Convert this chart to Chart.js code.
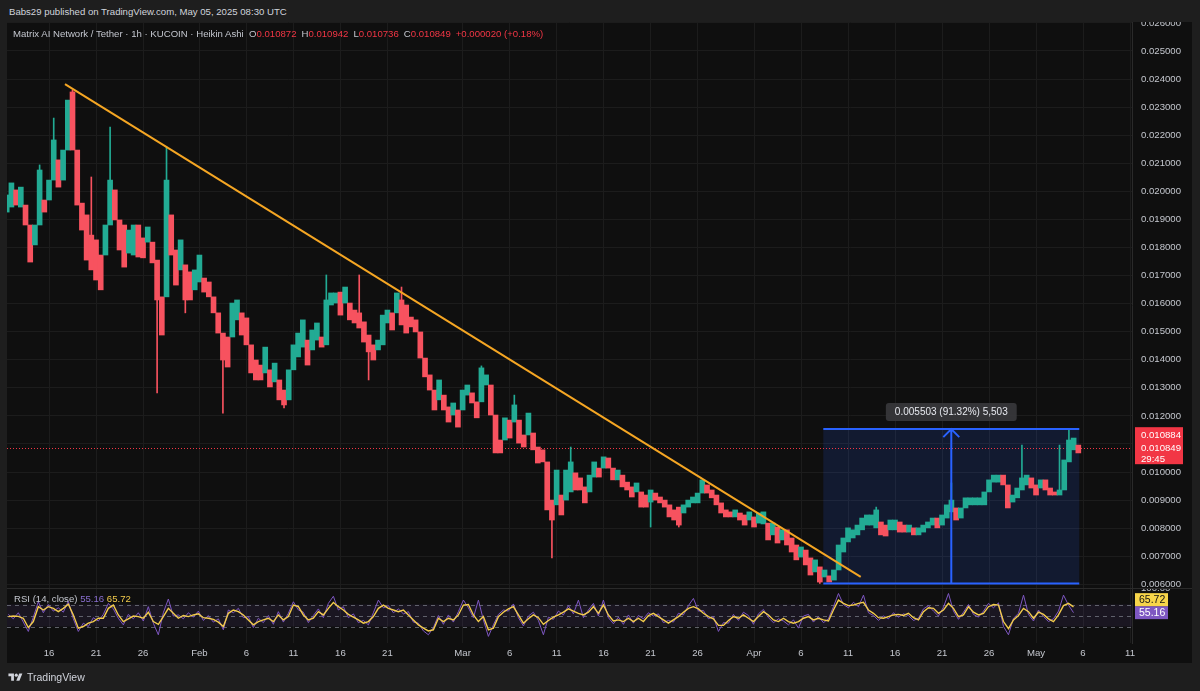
<!DOCTYPE html>
<html>
<head>
<meta charset="utf-8">
<script src="https://cdn.jsdelivr.net/npm/chart.js@4.4.1/dist/chart.umd.min.js"></script>
<style>
  html, body { margin: 0; padding: 0; }
  body { width: 1200px; height: 691px; overflow: hidden; background: #1e1e1e; position: relative;
         font-family: "Liberation Sans", Arial, sans-serif; }
  #hdr { position: absolute; left: 9px; top: 6px; font-size: 9.6px; color: #d1d4dc; }
  #frame { position: absolute; left: 7px; top: 22px; width: 1185px; height: 641px; background: #0f0f0f; }
  #price { position: absolute; left: 0; top: 0; }
  #rsi { position: absolute; left: 0; top: 566px; }
  #sep { position: absolute; left: 0; top: 566px; width: 1185px; height: 1px; background: #2a2a2a; }
  #legend { position: absolute; left: 6px; top: 6px; font-size: 9.6px; color: #c3c6ce; white-space: nowrap; }
  #legend b { font-weight: normal; color: #f23645; margin-right: 5px; }
  #rsiLegend { position: absolute; left: 7px; top: 571px; font-size: 9.6px; color: #c3c6ce; white-space: nowrap; }
  #brand { position: absolute; left: 8px; top: 671px; font-size: 10.5px; color: #d1d4dc; display: flex; align-items: center; gap: 4px; }
</style>
</head>
<body>
<div id="hdr">Babs29 published on TradingView.com, May 05, 2025 08:30 UTC</div>
<div id="frame">
  <canvas id="price" width="1185" height="566"></canvas>
  <canvas id="rsi" width="1185" height="75"></canvas>
  <div id="sep"></div>
  <div id="legend"></div>
  <div id="rsiLegend"></div>
</div>
<div id="brand">
  <svg width="15" height="11" viewBox="0 0 36 28"><path d="M14 22H7V11H0V4h14v18zM28 22h-8l7.5-18h8L28 22z" fill="#d1d4dc"/><circle cx="20" cy="8" r="4" fill="#d1d4dc"/></svg>
  <span>TradingView</span>
</div>
<script>
// 12h columns of the 1h Heikin Ashi chart, day of year (0 = Jan 1), first one Jan 11 12:00 UTC
const candleStart = 10.5;
const candleStep = 0.5;

const highs = [
  0.01987,0.02030,0.02005,0.02015,0.01951,0.01809,0.01880,0.02076,0.01969,0.02040,
  0.02183,0.02112,0.02147,0.02325,0.02354,0.02040,0.01958,0.01916,0.01844,0.01827,
  0.01773,0.01880,0.02040,0.02005,0.01887,0.01880,0.01862,0.01880,0.01880,0.01834,
  0.01873,0.01802,0.01755,0.01624,0.02040,0.01916,0.01791,0.01827,0.01738,0.01713,
  0.01720,0.01773,0.01691,0.01677,0.01624,0.01567,0.01495,0.01481,0.01602,0.01613,
  0.01567,0.01549,0.01453,0.01399,0.01381,0.01445,0.01364,0.01388,0.01328,0.01292,
  0.01364,0.01453,0.01495,0.01542,0.01470,0.01506,0.01531,0.01481,0.01613,0.01638,
  0.01638,0.01641,0.01659,0.01602,0.01577,0.01567,0.01535,0.01488,0.01453,0.01470,
  0.01559,0.01577,0.01567,0.01638,0.01613,0.01595,0.01552,0.01542,0.01470,0.01406,
  0.01346,0.01274,0.01328,0.01274,0.01232,0.01246,0.01221,0.01292,0.01310,0.01282,
  0.01250,0.01371,0.01346,0.01274,0.01150,0.01114,0.01193,0.01185,0.01239,0.01185,
  0.01132,0.01210,0.01132,0.01089,0.01079,0.01007,0.00900,0.01007,0.00918,0.01007,
  0.01036,0.00997,0.00979,0.00947,0.00989,0.01036,0.01014,0.01054,0.01050,0.01000,
  0.01007,0.00989,0.00964,0.00947,0.00961,0.00925,0.00918,0.00936,0.00925,0.00911,
  0.00900,0.00883,0.00865,0.00875,0.00883,0.00900,0.00911,0.00925,0.00972,0.00954,
  0.00936,0.00918,0.00890,0.00865,0.00858,0.00865,0.00854,0.00847,0.00858,0.00840,
  0.00854,0.00858,0.00818,0.00818,0.00804,0.00794,0.00794,0.00765,0.00740,0.00733,
  0.00722,0.00694,0.00687,0.00662,0.00651,0.00630,0.00651,0.00740,0.00765,0.00801,
  0.00794,0.00811,0.00836,0.00847,0.00847,0.00865,0.00822,0.00811,0.00829,0.00829,
  0.00822,0.00811,0.00811,0.00801,0.00801,0.00811,0.00822,0.00836,0.00836,0.00847,
  0.00883,0.00900,0.00872,0.00872,0.00908,0.00908,0.00908,0.00908,0.00929,0.00972,
  0.00989,0.00989,0.00989,0.00929,0.00918,0.00943,0.00979,0.00989,0.00979,0.00954,
  0.00972,0.00972,0.00943,0.00929,0.00936,0.01043,0.01114,0.01121,0.01096
];

const lows = [
  0.01926,0.01944,0.01951,0.01944,0.01880,0.01748,0.01809,0.01926,0.01926,0.01998,
  0.02094,0.02015,0.02040,0.02219,0.02147,0.01951,0.01862,0.01755,0.01720,0.01684,
  0.01649,0.01791,0.01951,0.01898,0.01791,0.01730,0.01780,0.01773,0.01766,0.01763,
  0.01819,0.01745,0.01613,0.01488,0.01791,0.01773,0.01666,0.01720,0.01613,0.01613,
  0.01649,0.01677,0.01641,0.01624,0.01567,0.01495,0.01399,0.01374,0.01506,0.01542,
  0.01488,0.01453,0.01353,0.01328,0.01328,0.01353,0.01303,0.01321,0.01257,0.01239,
  0.01257,0.01364,0.01410,0.01445,0.01381,0.01435,0.01470,0.01445,0.01453,0.01595,
  0.01602,0.01559,0.01602,0.01542,0.01531,0.01513,0.01463,0.01428,0.01399,0.01435,
  0.01453,0.01531,0.01506,0.01567,0.01524,0.01495,0.01517,0.01499,0.01406,0.01339,
  0.01292,0.01221,0.01257,0.01221,0.01178,0.01203,0.01160,0.01239,0.01274,0.01246,
  0.01193,0.01274,0.01310,0.01203,0.01068,0.01068,0.01132,0.01121,0.01178,0.01103,
  0.01089,0.01139,0.01079,0.01032,0.01036,0.00865,0.00829,0.00883,0.00847,0.00900,
  0.00929,0.00936,0.00936,0.00890,0.00929,0.00982,0.00982,0.01018,0.01014,0.00972,
  0.00972,0.00947,0.00936,0.00911,0.00929,0.00875,0.00875,0.00893,0.00900,0.00890,
  0.00875,0.00840,0.00829,0.00811,0.00854,0.00875,0.00890,0.00890,0.00925,0.00925,
  0.00908,0.00883,0.00854,0.00840,0.00840,0.00840,0.00829,0.00811,0.00829,0.00804,
  0.00818,0.00815,0.00758,0.00776,0.00747,0.00758,0.00740,0.00715,0.00687,0.00697,
  0.00669,0.00633,0.00644,0.00608,0.00626,0.00608,0.00615,0.00669,0.00715,0.00751,
  0.00765,0.00776,0.00794,0.00811,0.00811,0.00801,0.00776,0.00772,0.00794,0.00794,
  0.00786,0.00786,0.00786,0.00776,0.00776,0.00786,0.00801,0.00811,0.00801,0.00811,
  0.00836,0.00858,0.00829,0.00836,0.00872,0.00883,0.00883,0.00883,0.00883,0.00936,
  0.00964,0.00964,0.00954,0.00872,0.00893,0.00908,0.00936,0.00954,0.00943,0.00918,
  0.00943,0.00936,0.00918,0.00918,0.00918,0.01000,0.01036,0.01079,0.01068
];

// long wicks: column index and the extreme price reached
const wickIdx = [7,10,14,18,22,32,34,38,46,59,68,75,77,84,101,108,116,120,137,143,173,185,201,216,224,226];
const wickPrice = [0.02094,0.02261,0.02361,0.02051,0.02229,0.01282,0.02158,0.01567,0.01210,0.01228,0.01702,0.01702,0.01328,
  0.01659,0.01378,0.01274,0.00694,0.01089,0.00804,0.00804,0.00603,0.00875,0.00961,0.01096,0.01096,0.01153];

// RSI(14) and its moving average, read every ~12.8h
const rsiStart = 10.67;
const rsiStep = 0.532;
const rsiLine = [
  52,44,55,38,21,47,75,55,70,58,64,56,76,44,21,36,30,46,40,52,72,62,45,33,52,44,55,40,66,36,
  15,55,80,49,51,44,55,47,58,41,50,38,44,24,60,55,63,46,48,28,45,37,50,34,57,38,54,75,60,56,
  37,50,62,46,72,85,60,66,46,53,37,41,33,
  55,78,64,68,55,62,53,57,38,36,22,15,28,50,34,51,38,57,78,64,46,78,42,12,33,52,60,58,71,46,
  31,49,56,41,15,47,43,58,51,68,53,78,46,60,72,49,78,46,35,47,34,51,36,50,44,55,49,53,37,41,
  38,54,51,68,81,58,59,44,48,21,37,36,52,41,56,
  50,34,53,61,46,37,44,40,33,42,27,49,52,38,48,37,44,66,90,70,64,74,66,87,55,50,41,49,44,55,
  47,53,50,41,45,62,68,58,49,65,90,58,43,56,70,52,47,58,72,64,73,30,15,45,54,87,52,40,60,48,
  39,44,58,87,69,55.16
];
const rsiMa = [
  48,49,48.5,45,28,39,66,60,66,63,57,63,70.5,51,27,30,36,39,45,45,63,69,51,39,44,49,48,45,56,39,
  34,48,63,54,45,50,48,51,53,46,45,43,38,30,54,60,57,51,42,33,39,42,45,39,51,42,48,69,66,51,
  42,45,57,51,63,73.5,66,60,52,47,42,36,39,
  48,63,69,63,60,57,60,51,42,33,27,22,24,45,39,45,42,51,69,70,51,39,48,24,27,48,56,62,66,51,
  36,44,51,46,34,41,47,51,56,62,58,54,51,56,66,54,69,51,40,42,39,45,39,45,39,50,54,48,42,36,
  42,48,56,63,66,62,54,48,44,32,32,41,48,45,51,
  45,39,48,57,51,42,39,45,39,36,39,45,48,42,45,42,40,60,78,72,68,69,72,74,60,54,46,45,48,51,
  52,50,54,46,42,57,64,63,54,60,72,63,48,51,66,56,51,54,66,70,69,39,26,42,50,63,57,45,56,52,
  44,39,51,68,72,65.72
];
const rsiBands = [70, 50, 30];

// drawings on the chart
const trendDays = [16.7, 101.35];
const trendPrices = [0.023819, 0.006266];
const measureDays = [97.37, 124.6];
const measurePrices = [0.006026, 0.011529];
const measureLabel = '0.005503 (91.32%) 5,503';

const legendOhlc = ['0.010872', '0.010942', '0.010736', '0.010849'];
const legendChange = '+0.000020 (+0.18%)';
const lastPrice = 0.010849;
const priceTag = ['0.010884', '0.010849', '29:45'];

const priceTicks = [0.006,0.007,0.008,0.009,0.010,0.011,0.012,0.013,0.014,0.015,0.016,
  0.017,0.018,0.019,0.020,0.021,0.022,0.023,0.024,0.025,0.026];
const tickDays = [15,20,25,31,36,41,46,51,59,64,69,74,79,84,90,95,100,105,110,115,120,125,130];
const tickLabels = ['16','21','26','Feb','6','11','16','21','Mar','6','11','16','21','26','Apr','6','11','16','21','26','May','6','11'];

const UP = '#22ab94';
const DOWN = '#f7525f';
const GRID = '#1c1c1c';
const AXIS_TEXT = '#c4c7ce';
const FONT = '"Liberation Sans", Arial, sans-serif';
const X_MIN = 10.53, X_MAX = 130.21;

document.getElementById('legend').innerHTML =
  'Matrix AI Network / Tether · 1h · KUCOIN · Heikin Ashi&nbsp;&nbsp;' +
  ['O', 'H', 'L', 'C'].map((k, i) => k + '<b>' + legendOhlc[i] + '</b>').join('') +
  '<b>' + legendChange + '</b>';
document.getElementById('rsiLegend').innerHTML =
  'RSI (14, close) <span style="color:#8a6fd1">' + rsiLine[rsiLine.length - 1] +
  '</span> <span style="color:#f2cb4c">' + rsiMa[rsiMa.length - 1] + '</span>';

const mids = highs.map((h, i) => (h + lows[i]) / 2);
const colors = mids.map((m, i) => (i === 0 || m >= mids[i - 1]) ? UP : DOWN);

// each column opens where the previous one ended, so the 12h columns touch like the hourly candles do
const candleData = highs.map((h, i) => {
  let lo = lows[i], hi = h;
  if (i > 0) {
    if (lo > highs[i - 1]) lo = highs[i - 1];
    if (hi < lows[i - 1]) hi = lows[i - 1];
  }
  return { x: candleStart + i * candleStep, y: [lo, hi] };
});
const wickData = wickIdx.map((i, k) => {
  const p = wickPrice[k];
  return { x: candleStart + i * candleStep, y: p > highs[i] ? [highs[i], p] : [p, lows[i]] };
});
const wickColors = wickIdx.map(i => colors[i]);

const xTicks = s => { s.ticks = tickDays.map(v => ({ value: v })); };

const pricePanePlugin = {
  id: 'pricePane',
  beforeDatasetsDraw(chart) {
    const { ctx, chartArea: a, scales: { x, y } } = chart;
    const x1 = x.getPixelForValue(measureDays[0]);
    const x2 = x.getPixelForValue(measureDays[1]);
    const yTop = y.getPixelForValue(measurePrices[1]);
    const yBot = y.getPixelForValue(measurePrices[0]);
    ctx.save();
    ctx.fillStyle = 'rgba(41,98,255,0.14)';
    ctx.fillRect(x1, yTop, x2 - x1, yBot - yTop);
    const py = Math.round(y.getPixelForValue(lastPrice)) + 0.5;
    ctx.strokeStyle = '#f23645';
    ctx.lineWidth = 1;
    ctx.setLineDash([1, 2]);
    ctx.beginPath();
    ctx.moveTo(a.left, py);
    ctx.lineTo(a.right, py);
    ctx.stroke();
    ctx.restore();
  },
  afterDatasetsDraw(chart) {
    const { ctx, scales: { x, y } } = chart;
    const x1 = x.getPixelForValue(measureDays[0]);
    const x2 = x.getPixelForValue(measureDays[1]);
    const xm = (x1 + x2) / 2;
    const yTop = y.getPixelForValue(measurePrices[1]);
    const yBot = y.getPixelForValue(measurePrices[0]);
    ctx.save();
    ctx.strokeStyle = '#2962ff';
    ctx.lineWidth = 2;
    ctx.beginPath();
    ctx.moveTo(x1, yTop); ctx.lineTo(x2, yTop);
    ctx.moveTo(x1, yBot); ctx.lineTo(x2, yBot);
    ctx.moveTo(xm, yBot); ctx.lineTo(xm, yTop);
    ctx.moveTo(xm - 8, yTop + 8); ctx.lineTo(xm, yTop); ctx.lineTo(xm + 8, yTop + 8);
    ctx.stroke();
    ctx.font = '10px ' + FONT;
    const w = ctx.measureText(measureLabel).width + 18;
    ctx.fillStyle = 'rgba(55,55,58,0.95)';
    ctx.beginPath();
    ctx.roundRect(xm - w / 2, yTop - 26, w, 18, 3);
    ctx.fill();
    ctx.fillStyle = '#e6e8ee';
    ctx.textAlign = 'center';
    ctx.textBaseline = 'middle';
    ctx.fillText(measureLabel, xm, yTop - 17);
    ctx.restore();
  },
  afterDraw(chart) {
    const { ctx, chartArea: a, scales: { y } } = chart;
    ctx.save();
    ctx.font = '9.6px ' + FONT;
    ctx.textAlign = 'left';
    ctx.textBaseline = 'middle';
    ctx.fillStyle = AXIS_TEXT;
    priceTicks.forEach(v => ctx.fillText(v.toFixed(6), a.right + 9, y.getPixelForValue(v)));
    const py = y.getPixelForValue(lastPrice);
    ctx.fillStyle = '#f23645';
    ctx.fillRect(a.right + 3, py - 21, 48, 37);
    ctx.fillStyle = '#ffffff';
    ctx.fillText(priceTag[0], a.right + 9, py - 13);
    ctx.fillText(priceTag[1], a.right + 9, py);
    ctx.fillText(priceTag[2], a.right + 9, py + 11);
    ctx.restore();
  }
};

new Chart(document.getElementById('price'), {
  type: 'bar',
  data: {
    datasets: [
      {
        type: 'line',
        data: trendDays.map((d, i) => ({ x: d, y: trendPrices[i] })),
        borderColor: '#f5a623',
        borderWidth: 2,
        pointRadius: 0,
        order: 0
      },
      {
        data: candleData,
        backgroundColor: colors,
        barThickness: 5,
        grouped: false,
        order: 1
      },
      {
        data: wickData,
        backgroundColor: wickColors,
        barThickness: 1,
        grouped: false,
        order: 2
      }
    ]
  },
  options: {
    responsive: false,
    animation: false,
    layout: { padding: 0 },
    plugins: { legend: { display: false }, tooltip: { enabled: false } },
    scales: {
      x: {
        type: 'linear', min: X_MIN, max: X_MAX, offset: false,
        grid: { color: GRID, drawTicks: false, offset: false },
        border: { display: false },
        ticks: { display: false },
        afterBuildTicks: xTicks,
        afterFit: s => { s.height = 0; }
      },
      y: {
        position: 'right', min: 0.005868, max: 0.026032,
        grid: { color: GRID, drawTicks: false },
        border: { color: '#2a2a2a' },
        ticks: { display: false },
        afterBuildTicks: s => { s.ticks = priceTicks.map(v => ({ value: v })); },
        afterFit: s => { s.width = 60; }
      }
    }
  },
  plugins: [pricePanePlugin]
});

const rsiPanePlugin = {
  id: 'rsiPane',
  beforeDatasetsDraw(chart) {
    const { ctx, chartArea: a, scales: { y } } = chart;
    const yHi = y.getPixelForValue(rsiBands[0]);
    const yLo = y.getPixelForValue(rsiBands[2]);
    ctx.save();
    ctx.fillStyle = 'rgba(126,87,194,0.10)';
    ctx.fillRect(a.left, yHi, a.right - a.left, yLo - yHi);
    ctx.strokeStyle = 'rgba(120,123,134,0.75)';
    ctx.lineWidth = 1;
    ctx.setLineDash([4, 4]);
    rsiBands.forEach(v => {
      const yy = Math.round(y.getPixelForValue(v)) + 0.5;
      ctx.beginPath();
      ctx.moveTo(a.left, yy);
      ctx.lineTo(a.right, yy);
      ctx.stroke();
    });
    ctx.restore();
  },
  afterDraw(chart) {
    const { ctx, chartArea: a, scales: { y } } = chart;
    ctx.save();
    ctx.font = '9.6px ' + FONT;
    ctx.textAlign = 'left';
    ctx.textBaseline = 'middle';
    ctx.fillStyle = AXIS_TEXT;
    ctx.fillText('100.00', a.right + 9, y.getPixelForValue(100));
    const yr = y.getPixelForValue(rsiLine[rsiLine.length - 1]);
    ctx.fillStyle = '#7e57c2';
    ctx.fillRect(a.right + 3, yr - 6.5, 33, 13);
    ctx.fillStyle = '#f7d54a';
    ctx.fillRect(a.right + 3, yr - 19.5, 33, 13);
    ctx.font = '10.5px ' + FONT;
    ctx.fillStyle = '#ffffff';
    ctx.fillText(String(rsiLine[rsiLine.length - 1]), a.right + 7, yr);
    ctx.fillStyle = '#131313';
    ctx.fillText(String(rsiMa[rsiMa.length - 1]), a.right + 7, yr - 13);
    ctx.restore();
  }
};

new Chart(document.getElementById('rsi'), {
  type: 'line',
  data: {
    datasets: [
      {
        data: rsiMa.map((v, k) => ({ x: rsiStart + k * rsiStep, y: v })),
        borderColor: '#f2cb4c',
        borderWidth: 1.4,
        pointRadius: 0,
        order: 0
      },
      {
        data: rsiLine.map((v, k) => ({ x: rsiStart + k * rsiStep, y: v })),
        borderColor: '#7e57c2',
        borderWidth: 1,
        pointRadius: 0,
        order: 1
      }
    ]
  },
  options: {
    responsive: false,
    animation: false,
    layout: { padding: 0 },
    plugins: { legend: { display: false }, tooltip: { enabled: false } },
    scales: {
      x: {
        type: 'linear', min: X_MIN, max: X_MAX,
        grid: { color: GRID, drawTicks: false },
        border: { display: false },
        ticks: {
          color: AXIS_TEXT, font: { size: 9.6, family: FONT }, padding: 5,
          autoSkip: false, maxRotation: 0,
          callback: v => tickLabels[tickDays.indexOf(v)]
        },
        afterBuildTicks: xTicks,
        afterFit: s => { s.height = 20; }
      },
      y: {
        position: 'right', min: 0, max: 100,
        grid: { display: false },
        border: { color: '#2a2a2a' },
        ticks: { display: false },
        afterFit: s => { s.width = 60; }
      }
    }
  },
  plugins: [rsiPanePlugin]
});
</script>
</body>
</html>
